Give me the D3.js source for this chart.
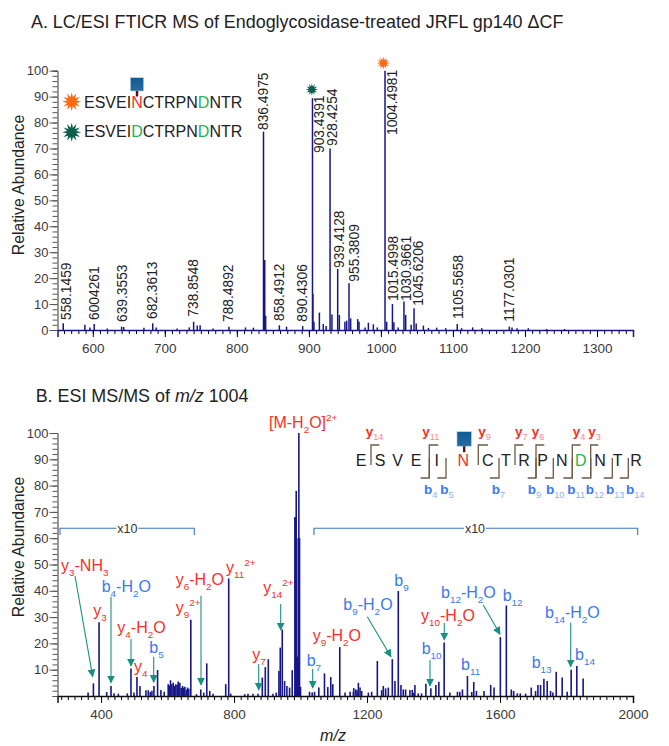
<!DOCTYPE html>
<html>
<head>
<meta charset="utf-8">
<script src="https://cdnjs.cloudflare.com/ajax/libs/d3/7.8.5/d3.min.js"></script>
<style>
  html, body { margin: 0; padding: 0; background: #fff; }
  svg { display: block; font-family: "Liberation Sans", Arial, sans-serif; }
  .axisTxt { fill: #3a3a3a; }
</style>
</head>
<body>
<svg id="chart" width="669" height="746" viewBox="0 0 669 746"></svg>
<script>
// panel A peaks
const mzA = [559,589,596,602,620,640,643,671,683.2,688,717,734,740,745,749,767,789,812,823,
  837,838.7,840,859,869,891.4,905,905.6,907,914.6,920,924,929.4,932,
  940,942.3,950,952.5,955.7,958,967.8,969.6,978,982.6,989.5,995,1005.7,1008,1016,1018,1024,
  1032,1034.4,1042,1046,1049,1059,1066,1077.4,1090,1106,1112,1127.4,1140,1178.3,1182,1189,1204.7,1230,1255];
const intA = [2.6,2,1,2.3,.6,1.3,1.2,.9,2.6,1,.6,1,3.2,1.7,1.8,.6,1.3,1,.9,
  76.5,27,5.5,1.8,1.3,1.5,89.4,14,3.2,6.7,2.3,1.5,70,6,
  23.5,5.8,3.2,3.6,18,4.5,4.2,3.2,1,2.8,2.2,1,100,3.2,10,3,1,
  11,5.8,2,8.4,2.5,1.7,.8,.9,.7,2.3,.7,1,.7,1.3,1,.7,.7,.4,.4];

const labelsA = ["558.1459","6004261","639.3553","682.3613","738.8548","788.4892","836.4975","858.4912",
  "890.4306","903.4391","928.4254","939.4128","955.3809","1004.4981","1015.4998","1030.9661","1045.6206","1105.5658","1177.0301"];

// panel B peaks
const mzB = [361,377,394,417,430,439,452,479,490,499,508,517,535,542,559,570,580,590,602,609,617,625,632,637,645,652,660,670,687,700,709,718,727,737,775,784,790,832,842,857,872,885,894,903,917,927,935,939,945,952,959,967,975,
  983,985,987,990,993,995,997,1000,1027,1035,1042,1055,1072,1082,1091,1097,1118,1134,1149,1159,1166,1174,1179,1184,1204,1214,1231,1244,1249,1256,1264,1276,1284,1294,1302,1309,1316,1329,1336,1344,1354,1364,1377,1392,1407,1416,1432,1449,1472,1479,1487,1502,1521,1529,1552,1572,1582,1601,1619,1634,1641,1652,1661,1677,1694,1707,1714,1722,1732,1742,1752,1759,1769,1787,1802,1814,1831,1850,
  605,613,621,629,641,648,656,664,548,553,1160,1170,1340,1515];
const intB = [1.3,4.8,28,1.5,3.8,1,.9,1,10.5,1.3,7.2,3.8,2.2,2.2,3.8,9.9,2.3,1.6,4.5,6,5,4.5,5.5,5,3.8,3.5,3.2,29,.7,2.5,1.3,12.4,1.9,.9,4.5,44.7,.9,.7,.9,.9,.9,7,11,14,.9,1.3,9.5,18.4,25.3,5.7,3.8,3.2,9.8,
  68,68,78,15,60,100,60,3.5,1.6,1.3,1.6,3.2,8.6,3.4,7.2,4.5,18.6,1.3,1.6,1.6,2.5,5,3.2,1.9,1.3,1.6,13.3,2.2,3.8,2.9,3.2,14,5.7,39.9,4.2,2.5,2.5,2.3,2.3,4.2,1,1,4.7,2.9,4.2,5.4,20.3,1.3,1.6,1.6,2.5,7.6,5.3,1.9,1.9,4.2,3.2,22.4,34.4,2.5,1.9,1,1,.9,3.2,1.9,4.2,4.2,6.6,5.7,1.9,1.3,9.2,7,1.6,10,11.4,6.7,
  4,4.5,3.8,4.2,3,3.2,2.4,2.8,1.5,2,3,2.2,1.2,1.5];

const yTicks = d3.range(10, 101, 10);
const yMinor = d3.range(0, 101, 2);
const xTicksA = d3.range(600, 1301, 100);
const xMinorA = d3.range(560, 1351, 10);
const xTicksB = [400, 800, 1200, 1600, 2000];
const xMinorB = d3.range(280, 2001, 20);

const svg = d3.select("#chart");
const defs = svg.append("defs");

const grad = defs.append("linearGradient").attr("id", "glycan").attr("x1", 0).attr("y1", 0).attr("x2", 0).attr("y2", 1);
grad.append("stop").attr("offset", "0%").attr("stop-color", "#0d5c94");
grad.append("stop").attr("offset", "100%").attr("stop-color", "#2a6a9e");

const TEAL = "#1b8f84", RED = "#f5302a", BLUE = "#3a78f2", NAVY = "#16168a", BRACKET = "#3f74b8", BROWN = "#6d5a45";

defs.append("marker").attr("id", "head").attr("viewBox", "0 0 10 10").attr("refX", 9).attr("refY", 5)
  .attr("markerUnits", "userSpaceOnUse").attr("markerWidth", 8).attr("markerHeight", 10).attr("orient", "auto")
  .append("path").attr("d", "M0,0L10,5L0,10Z").attr("fill", TEAL);

const xA = d3.scaleLinear().domain([551, 1350]).range([57.5, 633]);
const yA = d3.scaleLinear().domain([0, 100]).range([330, 70.7]);
const xB = d3.scaleLinear().domain([269, 2000]).range([57.5, 633]);
const yB = d3.scaleLinear().domain([0, 100]).range([696, 433]);

// text with _{sub} and ^{sup}, keeps the baseline by undoing dy
function rich(x, y, str, color, size, opts = {}) {
  const t = svg.append("text").attr("x", x).attr("y", y).attr("fill", color)
    .attr("font-size", size).attr("font-weight", opts.bold ? "bold" : null);
  let shift = 0;
  for (const m of str.matchAll(/([_^])\{([^}]*)\}|[^_^]+/g)) {
    const span = t.append("tspan");
    let target = 0;
    if (m[1] === "_") {
      target = size * 0.3;
      span.text(m[2]).attr("font-size", size * (opts.subScale || 0.62)).attr("font-weight", opts.subBold ? "bold" : "normal");
      if (opts.subColor) span.attr("fill", opts.subColor);
    } else if (m[1] === "^") {
      target = -size * 0.45;
      span.text(m[2]).attr("font-size", size * 0.62);
    } else {
      span.text(m[0]);
    }
    span.attr("dy", target - shift);
    shift = target;
  }
  return t;
}

function star(x, y, r, color) {
  const pts = d3.range(24).map(i => [i * Math.PI / 12, i % 2 ? r * 0.5 : r]);
  svg.append("path").attr("transform", `translate(${x},${y})`)
    .attr("d", d3.lineRadial().curve(d3.curveLinearClosed)(pts)).attr("fill", color);
}

function glycan(cx, top, size, stem) {
  svg.append("rect").attr("x", cx - size / 2).attr("y", top).attr("width", size).attr("height", size)
    .attr("fill", "url(#glycan)").attr("stroke", "#bcd3e6").attr("stroke-width", .6);
  svg.append("line").attr("x1", cx).attr("x2", cx).attr("y1", top + size).attr("y2", top + size + stem)
    .attr("stroke", "#5a1010").attr("stroke-width", 2.4);
}

function drawAxes(x, y, ticksX, minorX, baseColor) {
  const [y0] = y.range();
  const [x0] = x.range();
  const gx = svg.append("g").attr("transform", `translate(0,${y0})`);
  gx.call(d3.axisBottom(x).tickValues(minorX).tickSize(4).tickFormat(""));
  gx.call(g => g.select(".domain").remove());
  const gxMaj = svg.append("g").attr("transform", `translate(0,${y0})`)
    .call(d3.axisBottom(x).tickValues(ticksX).tickSize(7).tickPadding(6).tickFormat(d3.format("d")));
  gxMaj.select(".domain").attr("stroke", baseColor).attr("stroke-width", 1.5);
  gxMaj.selectAll("text").attr("class", "axisTxt").attr("font-size", 13.5).attr("font-family", "inherit");

  const gy = svg.append("g").attr("transform", `translate(${x0},0)`);
  gy.call(d3.axisLeft(y).tickValues(yMinor).tickSize(5).tickFormat(""));
  gy.select(".domain").attr("stroke", "#333");
  gy.selectAll(".tick line").attr("stroke", "#555");
}

function yMajor(y, ticks) {
  const g = svg.append("g").attr("transform", `translate(${y === yA ? xA.range()[0] : xB.range()[0]},0)`)
    .call(d3.axisLeft(y).tickValues(ticks).tickSize(8).tickPadding(1).tickFormat(d3.format("d")));
  g.select(".domain").remove();
  g.selectAll(".tick line").attr("stroke", "#555");
  g.selectAll("text").attr("class", "axisTxt").attr("font-size", 13).attr("font-family", "inherit");
}

function peaks(mz, vals, x, y, w) {
  svg.append("g").selectAll("line").data(mz).join("line")
    .attr("x1", d => x(d)).attr("x2", d => x(d))
    .attr("y1", y(0)).attr("y2", (d, i) => y(vals[i]))
    .attr("stroke", NAVY).attr("stroke-width", w);
}

// ---- panel A ----
rich(31, 28, "A. LC/ESI FTICR MS of Endoglycosidase-treated JRFL gp140 ΔCF", "#222", 17.9);
svg.append("text").attr("transform", "translate(24,185) rotate(-90)").attr("text-anchor", "middle")
  .attr("font-size", 15.8).attr("fill", "#222").text("Relative Abundance");

drawAxes(xA, yA, xTicksA, xMinorA, NAVY);
yMajor(yA, [0].concat(yTicks));
peaks(mzA, intA, xA, yA, 1.5);

// label anchors for panel A: centre x, bottom y of the rotated text
const labelCxA = [65.7,93.7,121.7,152.3,193,228,263.3,279,301.7,319,332,339,354.3,392.3,393,405.7,418,457.7,509];
const labelBotA = [320,320,322,319,316.7,322,130,321,321.7,153,146,268,281.7,135,301,301,305.7,319,321.7];
svg.append("g").selectAll("text").data(labelsA).join("text")
  .attr("transform", (d, i) => `translate(${labelCxA[i] + 5},${labelBotA[i]}) rotate(-90)`)
  .attr("font-size", 13.8).attr("fill", "#222").text(d => d);

star(xA(1005.7) - 1.7, yA(100) - 7.6, 6.5, "#ff6a13");
star(xA(905) - 0.6, yA(89.4) - 8.7, 6.2, "#0e5e4e");
star(71.7, 101.7, 9.5, "#ff6a13");
star(71.7, 132.3, 9.5, "#0e5e4e");

function seqLine(y, letter, color) {
  const t = svg.append("text").attr("x", 84).attr("y", y).attr("font-size", 16).attr("fill", "#222");
  t.append("tspan").text("ESVEI");
  t.append("tspan").attr("fill", color).text(letter);
  t.append("tspan").text("CTRPN");
  t.append("tspan").attr("fill", "#22b455").text("D");
  t.append("tspan").text("NTR");
}
seqLine(108.3, "N", "#f5302a");
seqLine(137.3, "D", "#22b455");
glycan(137, 77.7, 13.3, 5.5);

// ---- panel B ----
svg.append("text").attr("x", 35.7).attr("y", 401.7).attr("font-size", 17.9).attr("fill", "#222")
  .html('B. ESI MS/MS of <tspan font-style="italic">m/z</tspan> 1004');
svg.append("text").attr("transform", "translate(24,547) rotate(-90)").attr("text-anchor", "middle")
  .attr("font-size", 15.8).attr("fill", "#222").text("Relative Abundance");

drawAxes(xB, yB, xTicksB, xMinorB, "#111");
yMajor(yB, yTicks);
peaks(mzB, intB, xB, yB, 1.6);

// x10 brackets
[[60, 194.3, 127.3], [314, 637.7, 475]].forEach(([a, b, c]) => {
  svg.append("path").attr("d", `M${a},535V528.3H${b}V535`).attr("fill", "none")
    .attr("stroke", BRACKET).attr("stroke-width", 1.1);
  svg.append("rect").attr("x", c - 11).attr("y", 522).attr("width", 22).attr("height", 12).attr("fill", "#fff");
  svg.append("text").attr("x", c).attr("y", 533).attr("text-anchor", "middle").attr("font-size", 12.5)
    .attr("fill", "#333").text("x10");
});

// annotated fragments: text, x, baseline
const redLabels = [
  ["[M-H_{2}O]^{2+}", 269, 428.3], ["y_{3}-NH_{3}", 61, 570.7], ["y_{3}", 93.3, 616], ["y_{4}-H_{2}O", 117.3, 633],
  ["y_{4}", 134, 671.7], ["y_{6}-H_{2}O", 175.7, 585], ["y_{9}^{2+}", 175.7, 613.3], ["y_{11}^{2+}", 226, 572.7],
  ["y_{14}^{2+}", 263.3, 593.3], ["y_{7}", 252.3, 660], ["y_{9}-H_{2}O", 312.7, 641], ["y_{10}-H_{2}O", 421, 621]];
const blueLabels = [
  ["b_{4}-H_{2}O", 101.7, 591.7], ["b_{5}", 149.3, 653.3], ["b_{7}", 306.7, 666], ["b_{9}-H_{2}O", 343.3, 610],
  ["b_{9}", 394.3, 585.7], ["b_{10}", 421.7, 654.3], ["b_{11}", 461, 670], ["b_{12}-H_{2}O", 441, 598],
  ["b_{12}", 502.7, 601], ["b_{13}", 531.7, 668.3], ["b_{14}-H_{2}O", 545, 618.3], ["b_{14}", 575, 660]];
redLabels.forEach(([s, x, y]) => rich(x, y, s, RED, 16));
blueLabels.forEach(([s, x, y]) => rich(x, y, s, BLUE, 16));

// arrows: x1, y1, x2, y2
const arrows = [
  [75,576,92.7,676.7],[111,596.7,111,682.7],[131,639,131,666],[153.7,656.7,153.7,682.3],
  [201,595.7,201,685],[280.7,604,280.7,630],[258.7,664,258.7,690],[312.7,669,312.7,688],
  [367.3,616.7,391,656.7],[444.3,623,444.3,640],[430,660,430,686],[483.3,605,500,634.3],[570.7,622.7,570.7,666.7]];
svg.append("g").selectAll("line").data(arrows).join("line")
  .attr("x1", d => d[0]).attr("y1", d => d[1]).attr("x2", d => d[2]).attr("y2", d => d[3])
  .attr("stroke", TEAL).attr("stroke-width", 1.1).attr("marker-end", "url(#head)");

// peptide fragment map
const seq = "ESVEINCTRPNDNTR".split("");
const seqCx = [361,380,397.7,416,436.7,463.3,487.7,506,524,542.7,561.7,580.7,600,617.7,636];
svg.append("g").selectAll("text").data(seq).join("text")
  .attr("x", (d, i) => seqCx[i]).attr("y", 466).attr("text-anchor", "middle").attr("font-size", 16)
  .attr("fill", (d, i) => i === 5 ? RED : i === 11 ? "#22b455" : "#222").text(d => d);
glycan(464.2, 431.7, 14.5, 6);

// [vertical x, horizontal end x, top, bottom]
const yCuts = [[371,379.3,445,465],[429.3,438.3,445,478],[478.3,488,445,465],[515,523.3,445,465],[536,544.3,445,478],[572.3,580.7,445,478],[590.7,598.3,445,478]];
const bCuts = [[429.3,420.7,458,478],[446,437.3,458,478],[499,490,458,478],[536,527.7,458,478],[553.3,545,458,478],[572.3,563.3,458,478],[590.7,581.7,458,478],[612.3,603.7,458,478],[628.3,619.7,458,478]];
const brack = svg.append("g").attr("fill", "none").attr("stroke", BROWN).attr("stroke-width", 1.3);
yCuts.forEach(([x, e, t, b]) => brack.append("path").attr("d", `M${x},${b}V${t}H${e}`));
bCuts.forEach(([x, e, t, b]) => brack.append("path").attr("d", `M${x},${t}V${b}H${e}`));

const yIons = [["14",365.7],["11",422.3],["9",478.3],["7",515],["6",531.7],["4",572.7],["3",588.3]];
const bIons = [["4",424],["5",440.3],["7",491.7],["9",527.7],["10",546],["11",567.3],["12",585.7],["13",606],["14",626]];
yIons.forEach(([n, x]) => rich(x, 435.5, `y_{${n}}`, RED, 13.5, { bold: true, subColor: "#f88", subScale: .68 }));
bIons.forEach(([n, x]) => rich(x, 493.5, `b_{${n}}`, BLUE, 13.5, { bold: true, subColor: "#8db0f5", subScale: .68 }));

// axis title
svg.append("text").attr("x", 333).attr("y", 741).attr("text-anchor", "middle").attr("font-size", 16)
  .attr("font-style", "italic").attr("fill", "#222").text("m/z");
</script>
</body>
</html>
